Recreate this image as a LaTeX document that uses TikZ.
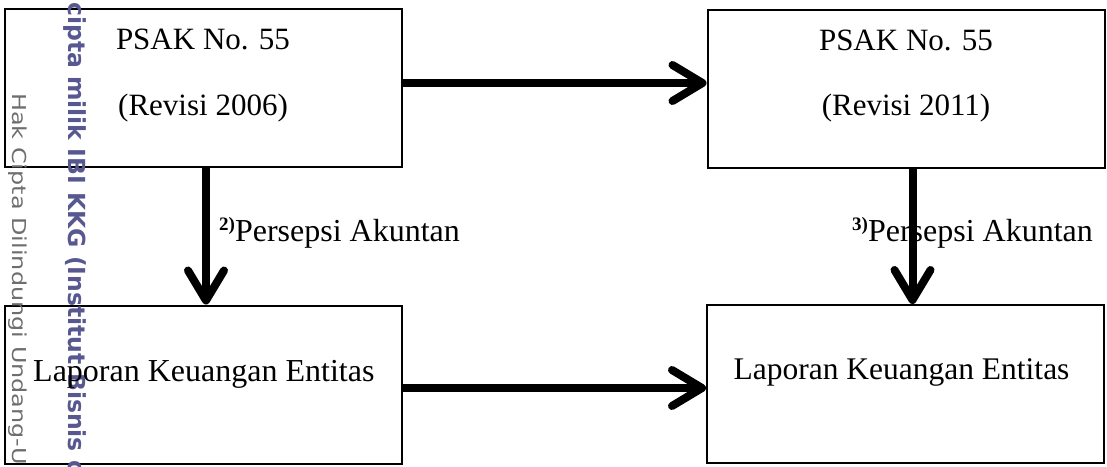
\documentclass[tikz,border=0pt]{standalone}
\usepackage{fontspec}
\setmainfont{Liberation Serif}
\newfontfamily\wmfont{DejaVu Sans}
\usetikzlibrary{arrows.meta}
\definecolor{wmgray}{RGB}{110,110,110}
\definecolor{wmblue}{RGB}{88,88,145}
\tikzset{
  box/.style={draw=black, line width=2pt, minimum width=397pt, minimum height=158pt, inner sep=0pt},
  txt/.style={inner sep=0pt, anchor=base, font=\fontsize{31}{37}\selectfont},
  lbl/.style={inner sep=0pt, anchor=base west, font=\fontsize{32}{38}\selectfont},
  arr/.style={line width=8pt, -{Straight Barb[length=30pt, width=36pt, round]}},
  wm/.style={inner sep=0pt, anchor=west, rotate=-90}
}
\newcommand{\supmark}[1]{\raisebox{11pt}{\fontsize{19}{19}\selectfont\bfseries #1}}
\begin{document}
\begin{tikzpicture}[x=1pt, y=-1pt]
\useasboundingbox (0,0) rectangle (1107,466);
% boxes
\node[box] (b1) at (203.5,88) {};
\node[box] (b2) at (906,89) {};
\node[box] (b3) at (203.5,384.5) {};
\node[box] (b4) at (905.5,384) {};
% watermark
\node[wm, text=wmgray] (wm1) at (18,93) {\wmfont\fontsize{19.2}{20}\selectfont\scalebox{1.246}[1]{Hak Cipta Dilindungi Undang-U}};
\node[wm, text=wmblue] (wm2) at (75,2) {\wmfont\bfseries\fontsize{23.5}{25}\selectfont cipta milik IBI KKG (Institut Bisnis d};
% texts
\node[txt] (t1a) at (203,49) {PSAK No. 55};
\node[txt] (t1b) at (203,115) {(Revisi 2006)};
\node[txt] (t2a) at (906,50) {PSAK No. 55};
\node[txt] (t2b) at (906,115) {(Revisi 2011)};
\node[lbl] (t3) at (33,381) {Laporan Keuangan Entitas};
\node[txt, font=\fontsize{31.5}{37}\selectfont] (t4) at (901.5,379) {Laporan Keuangan Entitas};
\node[lbl] (l1) at (219,241) {\supmark{2)}Persepsi Akuntan};
\node[lbl] (l2) at (852,241) {\supmark{3)}Persepsi Akuntan};
% arrows
\draw[arr] (b1.east |- 0,83) -- (b2.west |- 0,83);
\draw[arr] (b3.east |- 0,388) -- (b4.west |- 0,388);
\draw[arr] (b1.south -| 206,0) -- (b3.north -| 206,0);
\draw[arr] (b2.south -| 912.5,0) -- (b4.north -| 912.5,0);
\end{tikzpicture}
\end{document}
